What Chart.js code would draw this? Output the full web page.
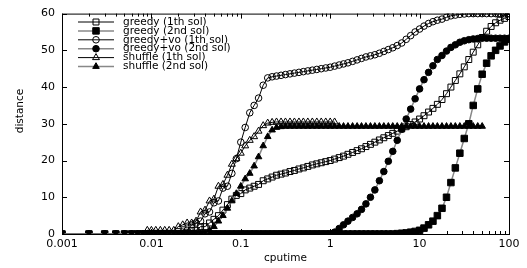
<!DOCTYPE html>
<html>
<head>
<meta charset="UTF-8">
<title>distance / cputime</title>
<script src="https://cdn.jsdelivr.net/npm/chart.js"></script>
<style>
  body { margin: 0; background: #fff; }
  .wrap { position: relative; width: 527px; height: 268px; }
</style>
</head>
<body>
<div class="wrap"><canvas id="c"></canvas></div>
<script>
// cputime samples (log axis)
const cpuTime = [
  0.001, 0.002, 0.003, 0.004, 0.005, 0.006, 0.007, 0.008, 0.009,
  0.01, 0.0112, 0.0126, 0.0141, 0.0158, 0.0178, 0.02, 0.0224, 0.0251, 0.0282,
  0.0316, 0.0355, 0.0398, 0.0447, 0.0501, 0.0562, 0.0631, 0.0708, 0.0794, 0.0891,
  0.1, 0.112, 0.126, 0.141, 0.158, 0.178, 0.2, 0.224, 0.251, 0.282,
  0.316, 0.355, 0.398, 0.447, 0.501, 0.562, 0.631, 0.708, 0.794, 0.891,
  1, 1.12, 1.26, 1.41, 1.58, 1.78, 2, 2.24, 2.51, 2.82,
  3.16, 3.55, 3.98, 4.47, 5.01, 5.62, 6.31, 7.08, 7.94, 8.91,
  10, 11.2, 12.6, 14.1, 15.8, 17.8, 20, 22.4, 25.1, 28.2,
  31.6, 35.5, 39.8, 44.7, 50.1, 56.2, 63.1, 70.8, 79.4, 89.1,
  100
];

const greedy1 = [
  0, 0, 0, 0, 0, 0, 0, 0, 0,
  0, 0, 0, 0, 0, 0, 0, 0, 0.5, 1,
  1, 2, 2, 3, 4, 5, 6.5, 8, 9.5, 10.5,
  11, 12, 12.5, 13, 13.5, 14.5, 15, 15.5, 16, 16.3,
  16.6, 17, 17.3, 17.7, 18, 18.4, 18.8, 19.1, 19.4, 19.7,
  20, 20.4, 20.8, 21.2, 21.7, 22.2, 22.7, 23.2, 23.8, 24.4,
  25, 25.6, 26.2, 26.8, 27.4, 28, 28.6, 29.2, 29.8, 30.5,
  31.3, 32.2, 33.2, 34.2, 35.3, 36.6, 38.2, 40, 41.8, 43.6,
  45.5, 47.5, 49.5, 51.5, 53.5, 55.2, 56.5, 57.5, 58.2, 58.7,
  59.2
];

const greedy2 = [
  0, 0, 0, 0, 0, 0, 0, 0, 0,
  0, 0, 0, 0, 0, 0, 0, 0, 0, 0,
  0, 0, 0, 0, 0, 0, 0, 0, 0, 0,
  0, 0, 0, 0, 0, 0, 0, 0, 0, 0,
  0, 0, 0, 0, 0, 0, 0, 0, 0, 0,
  0, 0, 0, 0, 0, 0, 0, 0, 0, 0,
  0, 0, 0, 0, 0, 0.1, 0.2, 0.3, 0.5, 0.7,
  1, 1.6, 2.5, 3.5, 5, 7, 10, 14, 18, 22,
  26, 30, 35, 39.5, 43.5, 46.5, 48.5, 50, 51.2, 52.3,
  53
];

const greedyVo1 = [
  0, 0, 0, 0, 0, 0, 0, 0, 0,
  0, 0, 0, 0, 0, 0, 0, 0.5, 1, 2.5,
  3, 3.5, 5.5, 6, 8.5, 9, 12.5, 13, 16.5, 20.5,
  25, 29, 33, 35, 37, 40.5, 42.5, 42.8, 43, 43.2,
  43.4, 43.6, 43.8, 44, 44.2, 44.4, 44.6, 44.8, 45, 45.2,
  45.4, 45.7, 46, 46.3, 46.6, 47, 47.4, 47.8, 48.2, 48.5,
  48.8, 49.2, 49.7, 50.2, 50.7, 51.3, 52, 53, 54, 55,
  55.8, 56.6, 57.3, 57.8, 58.2, 58.5, 59, 59.4, 59.6, 59.8,
  59.9, 60, 60, 60, 60, 60, 60, 60, 60, 60,
  60
];

const greedyVo2 = [
  0, 0, 0, 0, 0, 0, 0, 0, 0,
  0, 0, 0, 0, 0, 0, 0, 0, 0, 0,
  0, 0, 0, 0, 0, 0, 0, 0, 0, 0,
  0, 0, 0, 0, 0, 0, 0, 0, 0, 0,
  0, 0, 0, 0, 0, 0, 0, 0, 0, 0,
  0, 0.5, 1.5, 2.5, 3.5, 4.5, 5.5, 6.7, 8.2, 10,
  12, 14.5, 17, 19.8, 22.5, 25.5, 28.5, 31.3, 34, 36.8,
  39.5, 42, 44, 45.8, 47.5, 48.6, 49.8, 50.8, 51.5, 52.2,
  52.6, 52.9, 53.1, 53.2, 53.3, 53.3, 53.3, 53.3, 53.3, 53.3,
  53.3
];

const shuffle1 = [
  0, 0, 0, 0, 0, 0, 0, 0, 1,
  1, 1, 1, 1, 1, 1, 2, 2.5, 3, 3,
  3.5, 6, 6.5, 9, 9.5, 13, 13.5, 16, 19, 20.5,
  22, 24, 25.5, 26.5, 28, 29.5, 30.2, 30.4, 30.5, 30.5,
  30.5, 30.5, 30.5, 30.5, 30.5, 30.5, 30.5, 30.5, 30.5, 30.5,
  30.5, 30.5, null, null, null, null, null, null, null, null,
  null, null, null, null, null, null, null, null, null, null,
  null, null, null, null, null, null, null, null, null, null,
  null, null, null, null, null, null, null, null, null, null,
  null
];

const shuffle2 = [
  0, 0, 0, 0, 0, 0, 0, 0, 0,
  0, 0, 0, 0, 0, 0, 0, 0, 0, 0,
  0, 0, 0, 1, 2, 3.5, 5, 7, 9, 11,
  13, 15, 16.5, 18.5, 21, 24, 26.5, 28.3, 29, 29.2,
  29.3, 29.3, 29.3, 29.3, 29.3, 29.3, 29.3, 29.3, 29.3, 29.3,
  29.3, 29.3, 29.3, 29.3, 29.3, 29.3, 29.3, 29.3, 29.3, 29.3,
  29.3, 29.3, 29.3, 29.3, 29.3, 29.3, 29.3, 29.3, 29.3, 29.3,
  29.3, 29.3, 29.3, 29.3, 29.3, 29.3, 29.3, 29.3, 29.3, 29.3,
  29.3, 29.3, 29.3, 29.3, 29.3, null, null, null, null, null,
  null
];

const seriesNames = [
  'greedy (1th sol)', 'greedy (2nd sol)',
  'greedy+vo (1th sol)', 'greedy+vo (2nd sol)',
  'shuffle (1th sol)', 'shuffle (2nd sol)'
];
const xTicks = [0.001, 0.01, 0.1, 1, 10, 100];
const xTickLabels = ['0.001', '0.01', '0.1', '1', '10', '100'];
const yTicks = [0, 10, 20, 30, 40, 50, 60];

const font = "'DejaVu Sans', sans-serif";
const seriesY = [greedy1, greedy2, greedyVo1, greedyVo2, shuffle1, shuffle2];
const marks = [
  { style: 'rect', filled: false, r: 4.2 },
  { style: 'rect', filled: true, r: 4.6 },
  { style: 'circle', filled: false, r: 3.3 },
  { style: 'circle', filled: true, r: 3.3 },
  { style: 'triangle', filled: false, r: 4 },
  { style: 'triangle', filled: true, r: 3.8 }
];

const datasets = seriesY.map((ys, i) => ({
  label: seriesNames[i],
  data: cpuTime.map((x, k) => ({ x: x, y: ys[k] })).filter(p => p.y !== null),
  showLine: true,
  borderColor: marks[i].filled ? '#888' : '#000',
  borderWidth: marks[i].filled ? 1.5 : 1,
  pointStyle: marks[i].style,
  pointRadius: marks[i].r,
  pointBorderWidth: 1,
  pointBorderColor: '#000',
  pointBackgroundColor: marks[i].filled ? '#000' : 'rgba(0,0,0,0)',
  tension: 0,
  order: 6 - i
}));

// border, inward ticks, key and axis titles (gnuplot look)
const gnuplotFrame = {
  id: 'gnuplotFrame',
  afterDraw(chart) {
    const { ctx, chartArea: a, scales: { x, y } } = chart;
    ctx.save();
    ctx.strokeStyle = '#000';
    ctx.lineWidth = 1;
    ctx.strokeRect(a.left + 0.5, a.top + 0.5, a.right - a.left, a.bottom - a.top);
    ctx.beginPath();
    yTicks.forEach(v => {
      const py = Math.round(y.getPixelForValue(v)) + 0.5;
      ctx.moveTo(a.left, py); ctx.lineTo(a.left + 5, py);
      ctx.moveTo(a.right, py); ctx.lineTo(a.right - 5, py);
    });
    xTicks.forEach((d, j) => {
      const steps = j < xTicks.length - 1 ? 9 : 1;
      for (let m = 1; m <= steps; m++) {
        const px = Math.round(x.getPixelForValue(d * m)) + 0.5;
        const len = m === 1 ? 5 : 3;
        ctx.moveTo(px, a.bottom); ctx.lineTo(px, a.bottom - len);
        ctx.moveTo(px, a.top); ctx.lineTo(px, a.top + len);
      }
    });
    ctx.stroke();

    // key
    ctx.font = '10.5px ' + font;
    ctx.textBaseline = 'middle';
    ctx.textAlign = 'left';
    ctx.fillStyle = '#000';
    chart.data.datasets.forEach((ds, i) => {
      const ky = 22 + i * 8.9;
      ctx.beginPath();
      ctx.strokeStyle = ds.borderColor;
      ctx.lineWidth = ds.borderWidth;
      ctx.moveTo(78, ky); ctx.lineTo(114, ky);
      ctx.stroke();
      ctx.strokeStyle = '#000';
      ctx.fillStyle = ds.pointBackgroundColor;
      ctx.lineWidth = 1;
      Chart.helpers.drawPoint(ctx, { pointStyle: ds.pointStyle, radius: ds.pointRadius, borderWidth: 1 }, 96, ky);
      ctx.fillStyle = '#000';
      ctx.fillText(ds.label, 123, ky);
    });

    // axis titles
    ctx.textAlign = 'center';
    ctx.fillText('cputime', (a.left + a.right) / 2, 258);
    ctx.translate(20, 111);
    ctx.rotate(-Math.PI / 2);
    ctx.fillText('distance', 0, 0);
    ctx.restore();
  }
};

new Chart(document.getElementById('c'), {
  type: 'scatter',
  data: { datasets },
  options: {
    animation: false,
    responsive: true,
    maintainAspectRatio: false,
    devicePixelRatio: 1,
    layout: { padding: { top: 10, right: 18, left: 0, bottom: 0 } },
    plugins: { legend: { display: false }, tooltip: { enabled: false } },
    scales: {
      x: {
        type: 'logarithmic',
        min: 0.001,
        max: 100,
        grid: { display: false, drawTicks: false },
        border: { display: false },
        afterBuildTicks: s => { s.ticks = xTicks.map(v => ({ value: v })); },
        afterFit: s => { s.height = 34; },
        ticks: {
          color: '#000',
          font: { family: font, size: 11 },
          padding: 4,
          maxRotation: 0,
          autoSkip: false,
          callback: v => { const k = xTicks.indexOf(v); return k < 0 ? '' : xTickLabels[k]; }
        }
      },
      y: {
        min: 0,
        max: 60,
        grid: { display: false, drawTicks: false },
        border: { display: false },
        afterFit: s => { s.width = 62; },
        ticks: {
          color: '#000',
          stepSize: 10,
          padding: 7,
          font: { family: font, size: 11 }
        }
      }
    }
  },
  plugins: [gnuplotFrame]
});
</script>
</body>
</html>
